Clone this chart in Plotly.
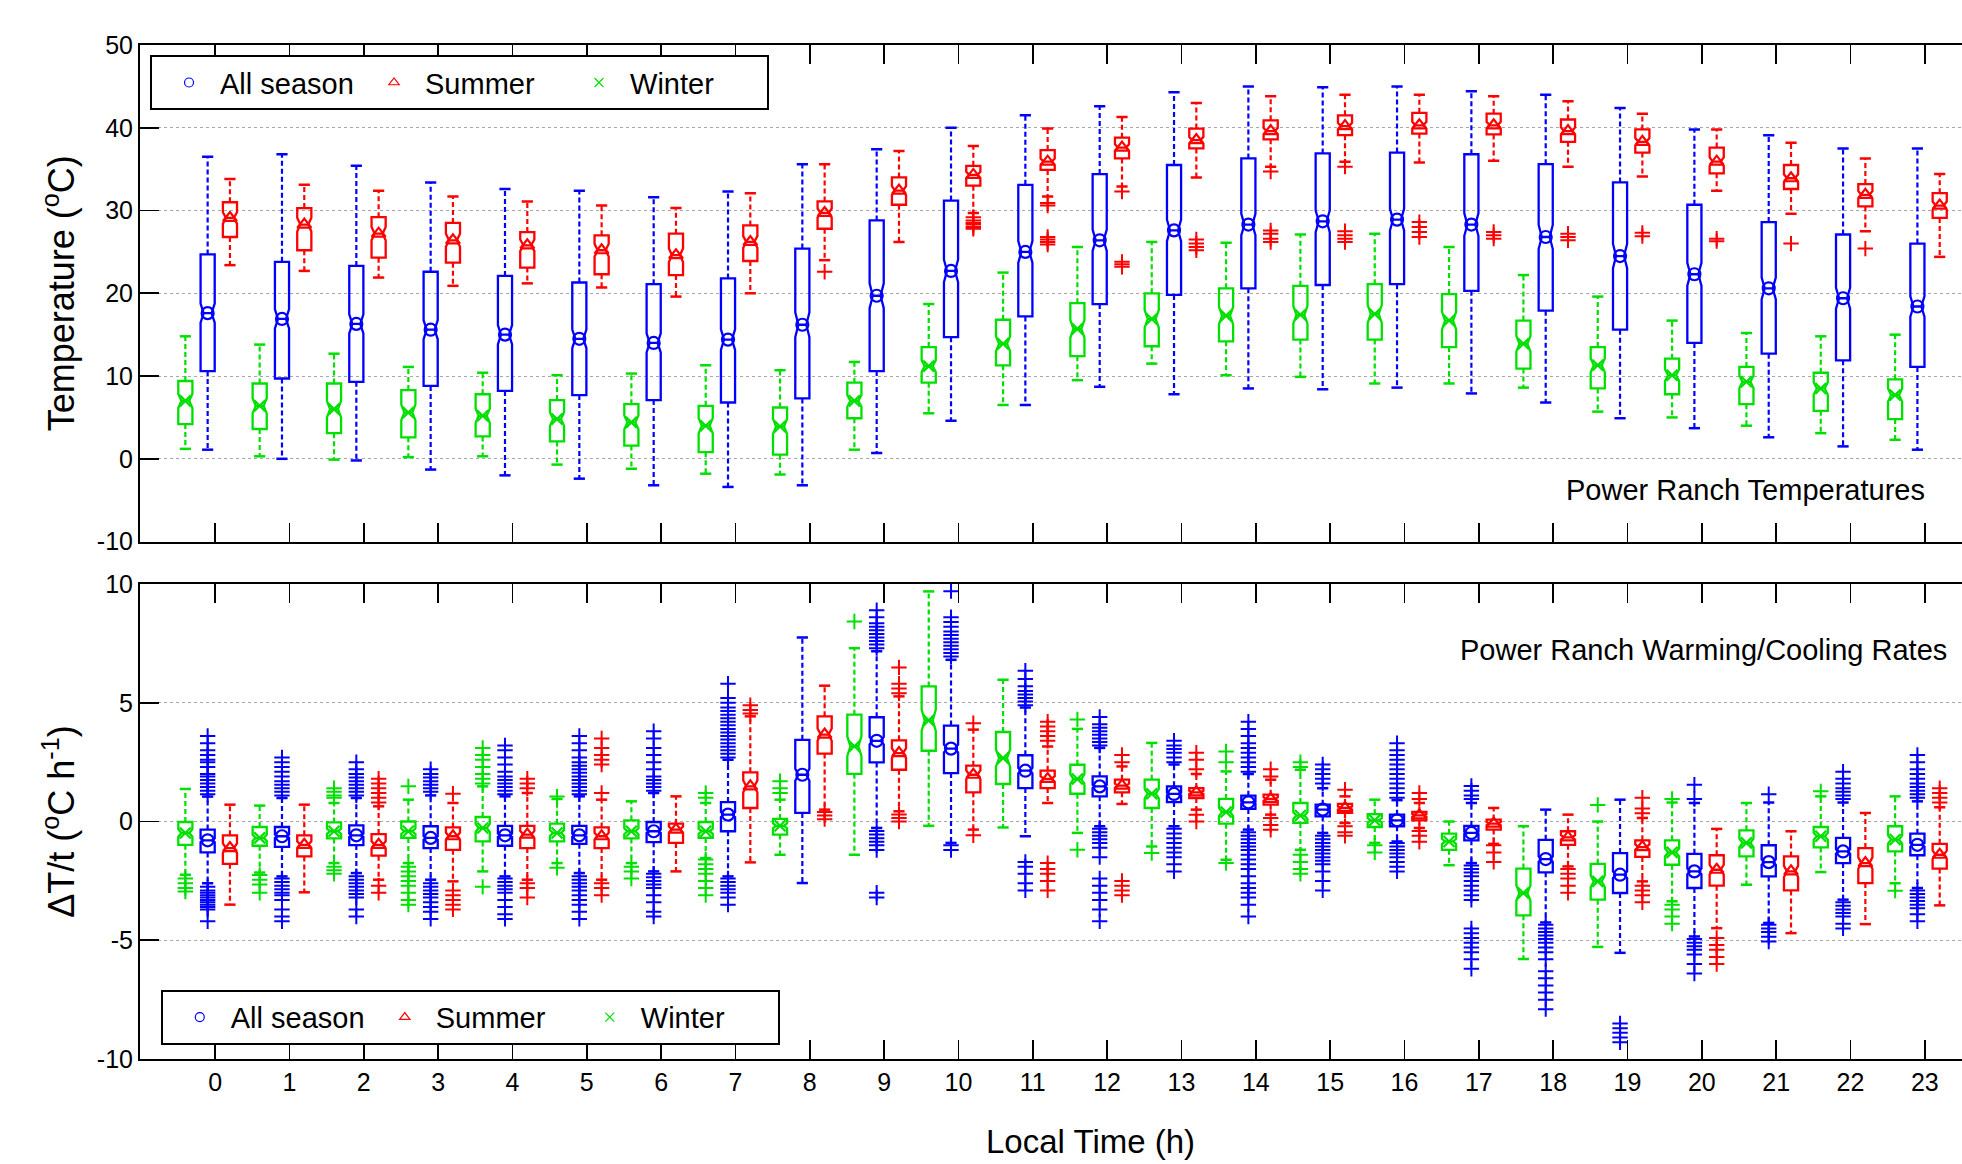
import math
import plotly.graph_objects as go

HOURS = list(range(24))
HOUR_LABELS = [str(h) for h in HOURS]

# ---------------- Top panel: temperature (deg C) ----------------
TEMP_ALL_UPPER = [36.5, 36.8, 35.4, 33.4, 32.6, 32.4, 31.6, 32.3, 35.6, 37.4, 40.0, 41.5, 42.6, 44.3, 45.0, 44.9, 45.0, 44.4, 44.0, 42.4, 39.8, 39.1, 37.5, 37.5]
TEMP_ALL_Q3 = [24.7, 23.8, 23.3, 22.6, 22.1, 21.3, 21.1, 21.8, 25.4, 28.8, 31.2, 33.1, 34.4, 35.5, 36.3, 36.9, 37.0, 36.8, 35.6, 33.4, 30.7, 28.6, 27.1, 26.0]
TEMP_ALL_MEDIAN = [17.6, 16.9, 16.3, 15.6, 15.0, 14.5, 14.0, 14.4, 16.2, 19.7, 22.7, 25.0, 26.4, 27.6, 28.3, 28.7, 28.9, 28.3, 26.8, 24.5, 22.3, 20.6, 19.4, 18.4]
TEMP_ALL_Q1 = [10.6, 9.7, 9.3, 8.8, 8.2, 7.7, 7.1, 6.8, 7.3, 10.6, 14.7, 17.2, 18.7, 19.8, 20.6, 21.0, 21.1, 20.3, 17.9, 15.6, 14.0, 12.7, 11.9, 11.1]
TEMP_ALL_LOWER = [1.1, 0.0, -0.2, -1.3, -2.0, -2.4, -3.2, -3.4, -3.2, 0.7, 4.6, 6.5, 8.7, 7.8, 8.5, 8.4, 8.6, 7.9, 6.8, 4.9, 3.7, 2.6, 1.5, 1.1]
TEMP_ALL_OUTLIERS = [[] for _ in HOURS]

TEMP_SUMMER_UPPER = [33.8, 33.1, 32.4, 31.7, 31.1, 30.6, 30.3, 32.1, 35.6, 37.2, 37.8, 39.9, 41.3, 43.0, 43.8, 44.0, 44.0, 43.8, 43.2, 41.7, 39.8, 38.2, 36.3, 34.4]
TEMP_SUMMER_Q3 = [31.0, 30.3, 29.2, 28.5, 27.4, 27.0, 27.2, 28.2, 31.1, 34.0, 35.4, 37.3, 38.8, 39.9, 40.9, 41.5, 41.8, 41.7, 41.0, 39.8, 37.6, 35.5, 33.2, 32.1]
TEMP_SUMMER_MEDIAN = [29.1, 28.3, 27.2, 26.4, 25.8, 25.2, 24.6, 26.2, 29.7, 32.4, 34.3, 35.9, 37.6, 38.5, 39.6, 40.2, 40.3, 40.3, 39.6, 38.3, 35.9, 33.9, 31.9, 30.6]
TEMP_SUMMER_Q1 = [26.8, 25.2, 24.3, 23.7, 23.1, 22.3, 22.2, 23.9, 27.8, 30.7, 33.0, 34.9, 36.3, 37.5, 38.6, 39.1, 39.3, 39.2, 38.3, 37.0, 34.5, 32.6, 30.5, 29.1]
TEMP_SUMMER_LOWER = [23.4, 22.7, 21.9, 20.9, 21.2, 20.7, 19.6, 20.0, 24.0, 26.2, 29.7, 31.7, 32.9, 34.0, 35.3, 35.9, 35.8, 36.0, 35.3, 34.1, 32.4, 29.6, 27.5, 24.4]
TEMP_SUMMER_OUTLIERS = [
    [], [], [], [], [], [], [], [], [22.6], [],
    [29.2, 28.8, 28.5, 28.3, 28.0, 27.8],
    [30.9, 30.6, 26.8, 26.5, 26.2, 25.9],
    [32.3, 23.8, 23.5, 23.2],
    [26.5, 26.0, 25.6, 25.2],
    [34.7, 27.6, 27.2, 26.6, 26.2],
    [35.3, 27.5, 27.0, 26.6, 26.2],
    [28.6, 28.0, 27.4, 26.8],
    [27.4, 27.0, 26.6],
    [27.2, 26.8, 26.4],
    [27.3, 26.9],
    [26.6, 26.3],
    [26.0],
    [25.4],
    [],
]

TEMP_WINTER_UPPER = [14.8, 13.8, 12.7, 11.1, 10.4, 10.1, 10.3, 11.3, 10.7, 11.7, 18.7, 22.5, 25.6, 26.2, 26.1, 27.1, 27.2, 25.6, 22.2, 19.6, 16.7, 15.2, 14.8, 15.0]
TEMP_WINTER_Q3 = [9.4, 9.1, 9.1, 8.3, 7.8, 7.1, 6.6, 6.4, 6.2, 9.2, 13.5, 16.8, 18.8, 20.0, 20.6, 20.9, 21.1, 19.9, 16.7, 13.5, 12.1, 11.1, 10.4, 9.6]
TEMP_WINTER_MEDIAN = [7.0, 6.4, 6.0, 5.6, 5.2, 4.8, 4.4, 4.0, 3.9, 7.0, 11.2, 13.9, 15.7, 16.9, 17.3, 17.4, 17.5, 16.7, 13.9, 11.3, 10.1, 9.3, 8.5, 7.7]
TEMP_WINTER_Q1 = [4.2, 3.6, 3.1, 2.6, 2.7, 2.1, 1.6, 0.8, 0.5, 4.9, 9.2, 11.3, 12.4, 13.6, 14.2, 14.4, 14.4, 13.5, 10.9, 8.5, 7.8, 6.6, 5.8, 4.8]
TEMP_WINTER_LOWER = [1.2, 0.3, -0.1, 0.2, 0.3, -0.7, -1.2, -1.8, -1.9, 1.1, 5.5, 6.5, 9.5, 11.5, 10.1, 9.9, 9.1, 9.1, 8.6, 5.7, 5.0, 4.0, 3.1, 2.3]
TEMP_WINTER_OUTLIERS = [[] for _ in HOURS]

# ---------------- Bottom panel: warming / cooling rate (deg C per h) ----------------
RATE_ALL_UPPER = [1.05, 0.99, 0.99, 1.1, 1.06, 1.06, 1.2, 2.6, 7.75, 7.17, 6.81, 4.8, 3.1, 2.4, 2.0, 1.4, 0.9, 0.78, 0.5, 0.92, 0.78, 0.8, 0.8, 0.85]
RATE_ALL_Q3 = [-0.34, -0.23, -0.16, -0.2, -0.18, -0.18, -0.02, 0.82, 3.44, 4.39, 4.04, 2.79, 1.9, 1.48, 1.09, 0.71, 0.29, -0.18, -0.77, -1.33, -1.36, -1.0, -0.69, -0.51]
RATE_ALL_MEDIAN = [-0.79, -0.62, -0.58, -0.69, -0.58, -0.58, -0.41, 0.29, 1.97, 3.4, 3.07, 2.14, 1.48, 1.16, 0.81, 0.5, 0.05, -0.48, -1.58, -2.24, -2.1, -1.71, -1.26, -0.98]
RATE_ALL_Q1 = [-1.3, -1.07, -0.99, -1.12, -1.02, -0.94, -0.87, -0.41, 0.36, 2.49, 2.04, 1.41, 1.06, 0.82, 0.53, 0.22, -0.2, -0.79, -2.14, -3.01, -2.8, -2.31, -1.75, -1.42]
RATE_ALL_LOWER = [-2.6, -2.31, -2.17, -2.45, -2.31, -2.17, -2.1, -2.31, -2.59, -0.27, -0.9, -0.62, -0.2, -0.2, -0.34, -0.48, -0.84, -1.75, -4.25, -5.53, -4.84, -4.27, -3.29, -2.8]
RATE_ALL_OUTLIERS = [
    [1.15, 1.3, 1.45, 1.6, 1.75, 1.9, 2.0, 2.3, 2.5, 2.6, 2.8, 3.0, 3.3, 3.6, -2.75, -2.9, -3.0, -3.1, -3.2, -3.3, -3.4, -3.5, -3.6, -3.7, -4.2],
    [1.1, 1.25, 1.4, 1.55, 1.7, 1.9, 2.1, 2.3, 2.5, 2.7, -2.4, -2.55, -2.7, -2.85, -3.0, -3.1, -3.3, -3.7, -4.0, -4.2],
    [1.1, 1.25, 1.4, 1.55, 1.7, 1.85, 2.0, 2.2, 2.5, -2.3, -2.45, -2.6, -2.75, -2.9, -3.05, -3.2, -3.7, -4.0],
    [1.25, 1.4, 1.55, 1.7, 1.85, 2.0, 2.2, -2.6, -2.75, -2.9, -3.05, -3.2, -3.4, -3.6, -3.8, -4.1],
    [1.15, 1.3, 1.45, 1.6, 1.75, 1.9, 2.1, 2.4, 2.7, 3.0, 3.2, -2.4, -2.55, -2.7, -2.85, -3.0, -3.3, -3.6, -3.9, -4.1],
    [1.15, 1.3, 1.45, 1.6, 1.75, 1.9, 2.05, 2.2, 2.35, 2.5, 2.7, 3.0, 3.3, 3.6, -2.3, -2.45, -2.6, -2.75, -2.9, -3.1, -3.3, -3.5, -3.8, -4.1],
    [1.3, 1.45, 1.6, 1.75, 1.9, 2.2, 2.5, 2.8, 3.1, 3.5, 3.8, -2.2, -2.35, -2.5, -2.65, -2.8, -3.1, -3.4, -3.8, -4.0],
    [2.7, 2.85, 3.0, 3.15, 3.3, 3.45, 3.6, 3.75, 3.9, 4.05, 4.2, 4.35, 4.5, 4.65, 4.8, 5.0, 5.2, 5.8, -2.4, -2.55, -2.7, -2.85, -3.0, -3.2, -3.5],
    [],
    [7.3, 7.45, 7.6, 7.75, 7.9, 8.05, 8.2, 8.35, 8.6, 8.9, -0.4, -0.55, -0.7, -0.85, -1.0, -1.2, -3.0, -3.2],
    [6.95, 7.1, 7.25, 7.4, 7.55, 7.7, 7.85, 8.0, 8.2, 8.4, 8.6, 9.7, -1.0, -1.2],
    [4.9, 5.05, 5.2, 5.35, 5.5, 5.7, 6.0, 6.35, -1.7, -1.9, -2.2, -2.6, -2.9],
    [3.2, 3.35, 3.5, 3.65, 3.8, 3.95, 4.1, 4.4, -0.3, -0.45, -0.6, -0.75, -0.9, -1.1, -1.5, -2.4, -2.7, -3.0, -3.3, -3.7, -4.2],
    [2.5, 2.7, 2.9, 3.05, 3.2, 3.4, -0.3, -0.5, -0.7, -0.9, -1.1, -1.3, -1.5, -1.8, -2.1],
    [2.1, 2.3, 2.5, 2.7, 2.9, 3.1, 3.3, 3.6, 3.9, 4.2, -0.45, -0.6, -0.75, -0.9, -1.05, -1.2, -1.4, -1.6, -1.8, -2.0, -2.3, -2.6, -2.8, -3.0, -3.2, -3.5, -4.0],
    [1.6, 1.8, 2.0, 2.2, 2.4, -0.6, -0.75, -0.9, -1.05, -1.2, -1.35, -1.5, -1.65, -1.8, -2.1, -2.5, -2.9],
    [1.0, 1.2, 1.4, 1.6, 1.8, 2.0, 2.2, 2.4, 2.6, 2.8, 3.0, 3.3, -0.9, -1.05, -1.2, -1.35, -1.5, -1.7, -1.9, -2.1],
    [0.95, 1.1, 1.3, 1.5, -1.85, -2.0, -2.15, -2.3, -2.5, -2.7, -2.9, -3.1, -3.3, -4.5, -4.7, -4.9, -5.1, -5.3, -5.5, -5.8, -6.2],
    [-4.35, -4.5, -4.65, -4.8, -4.95, -5.1, -5.3, -5.5, -5.8, -6.3, -6.6, -6.9, -7.2, -7.5, -7.9],
    [-8.5, -8.7, -8.9, -9.1, -9.3],
    [0.95, 1.55, -4.95, -5.1, -5.25, -5.4, -5.6, -6.0, -6.4],
    [1.15, -4.35, -4.5, -4.65, -4.85, -5.05],
    [0.95, 1.1, 1.25, 1.4, 1.6, 1.8, 2.1, -3.4, -3.55, -3.7, -3.85, -4.0, -4.3, -4.5],
    [1.0, 1.15, 1.3, 1.45, 1.6, 1.8, 2.0, 2.2, 2.5, 2.8, -2.9, -3.05, -3.2, -3.35, -3.5, -3.65, -3.9, -4.2],
]

RATE_SUMMER_UPPER = [0.71, 0.71, 0.64, 0.78, 1.2, 0.92, 1.06, 4.43, 5.72, 5.27, 3.87, 3.16, 2.32, 2.0, 1.76, 1.06, 0.78, 0.57, 0.29, 0.15, -0.31, -0.41, 0.36, 0.6]
RATE_SUMMER_Q3 = [-0.58, -0.58, -0.53, -0.25, -0.18, -0.25, -0.09, 2.07, 4.43, 3.42, 2.35, 2.14, 1.76, 1.41, 1.13, 0.74, 0.4, 0.08, -0.41, -0.79, -1.42, -1.47, -1.12, -0.94]
RATE_SUMMER_MEDIAN = [-1.12, -0.98, -0.98, -0.62, -0.55, -0.62, -0.34, 1.48, 3.66, 2.88, 1.97, 1.79, 1.51, 1.23, 0.95, 0.57, 0.26, -0.09, -0.67, -1.08, -2.03, -2.1, -1.75, -1.4]
RATE_SUMMER_Q1 = [-1.78, -1.47, -1.44, -1.19, -1.12, -1.12, -0.9, 0.57, 2.86, 2.18, 1.23, 1.41, 1.23, 0.99, 0.71, 0.36, 0.05, -0.34, -0.98, -1.49, -2.7, -2.9, -2.59, -1.98]
RATE_SUMMER_LOWER = [-3.5, -2.98, -2.45, -2.52, -2.45, -2.45, -2.1, -1.72, 0.5, 0.43, -0.34, 0.78, 0.74, 0.5, 0.29, -0.06, -0.27, -0.94, -1.89, -2.52, -4.49, -4.7, -4.32, -3.53]
RATE_SUMMER_OUTLIERS = [
    [], [],
    [0.8, 1.0, 1.2, 1.4, 1.6, 1.8, -2.7, -3.0],
    [1.17, -2.9, -3.1, -3.3, -3.5, -3.7],
    [1.4, 1.6, 1.8, -2.6, -2.8, -3.2],
    [1.2, 2.4, 2.6, 2.8, 3.1, 3.5, -2.6, -2.8, -3.1],
    [],
    [4.55, 4.7, 4.9],
    [0.4, 0.25, 0.1],
    [5.4, 5.6, 5.8, 6.49, 0.3, 0.15, 0.0],
    [4.14, -0.58],
    [3.4, 3.6, 3.8, 4.0, 4.2, -1.75, -2.0, -2.2, -2.5, -2.9],
    [2.5, 2.8, -2.5, -2.7, -2.9, -3.1],
    [2.2, 2.6, 2.9, 0.28, 0.0],
    [1.9, 2.2, 0.15, -0.15, -0.35],
    [1.34, -0.2, -0.45, -0.6],
    [0.95, 1.2, -0.4, -0.6, -0.85],
    [-1.0, -1.3, -1.7],
    [-2.0, -2.2, -2.4, -2.7, -3.0],
    [0.35, 0.55, 1.0, -2.7, -2.9, -3.1, -3.4],
    [-4.9, -5.2, -5.4, -5.7, -6.0],
    [],
    [],
    [0.8, 1.0, 1.2, 1.4],
]

RATE_WINTER_UPPER = [1.37, 0.67, 0.78, 0.92, 1.48, 0.95, 0.85, 0.78, 0.92, 7.3, 9.69, 5.97, 3.9, 3.31, 2.11, 2.18, 0.92, 0.0, -0.2, 0.0, 0.8, 0.78, 1.06, 1.06]
RATE_WINTER_Q3 = [-0.02, -0.23, -0.04, 0.0, 0.19, -0.09, 0.05, -0.02, 0.11, 4.5, 5.69, 3.77, 2.39, 1.76, 0.95, 0.78, 0.31, -0.51, -1.98, -1.78, -0.79, -0.37, -0.23, -0.2]
RATE_WINTER_MEDIAN = [-0.48, -0.69, -0.41, -0.41, -0.27, -0.48, -0.41, -0.41, -0.18, 3.17, 4.26, 2.67, 1.79, 1.17, 0.4, 0.25, 0.05, -0.84, -3.01, -2.52, -1.3, -0.9, -0.62, -0.76]
RATE_WINTER_Q1 = [-0.98, -1.02, -0.71, -0.69, -0.84, -0.84, -0.71, -0.69, -0.55, 2.01, 2.98, 1.58, 1.17, 0.57, -0.09, -0.06, -0.23, -1.19, -3.95, -3.29, -1.82, -1.47, -1.09, -1.26]
RATE_WINTER_LOWER = [-2.24, -2.15, -1.75, -1.75, -2.1, -1.75, -1.75, -1.54, -1.4, -1.4, -0.18, -0.25, -0.48, -1.05, -1.61, -1.19, -0.9, -1.84, -5.79, -5.28, -3.36, -2.66, -2.13, -2.6]
RATE_WINTER_OUTLIERS = [
    [-2.4, -2.6, -2.8, -2.95],
    [-2.25, -2.45, -2.65, -3.0],
    [1.0, 1.1, 1.25, 1.4, -1.9, -2.05, -2.2],
    [1.48, -1.9, -2.1, -2.3, -2.5, -2.7, -3.0, -3.3, -3.5],
    [1.6, 1.8, 2.0, 2.3, 2.6, 2.8, 3.1, -2.75],
    [1.05, -1.95],
    [-1.9, -2.1, -2.4],
    [1.0, 1.2, -1.6, -1.8, -2.0, -2.2, -2.5, -2.8, -3.1],
    [1.2, 1.4, 1.7],
    [8.42],
    [],
    [],
    [4.3, -1.19],
    [-1.33],
    [2.5, 2.95, -1.75],
    [2.3, 2.5, -1.4, -1.7, -2.0, -2.2],
    [-1.0, -1.3],
    [],
    [],
    [0.7],
    [0.95, -3.5, -3.7, -4.0, -4.3],
    [],
    [1.27],
    [-2.91],
]

# sample sizes (days per group), used for the notch half-span 1.57*IQR/sqrt(n)
N_DAYS = {"All season": 365, "Summer": 92, "Winter": 90}

# ---------------- styling ----------------
FONT = "Liberation Sans, Arial, Helvetica, sans-serif"
COLORS = {"All season": "#0000ff", "Summer": "#ff0000", "Winter": "#00e000"}
SYMBOLS = {"All season": "circle-open", "Summer": "triangle-up-open", "Winter": "x-thin-open"}
MED_SIZE = {"All season": 12, "Summer": 12, "Winter": 11}
OFFSET = {"Winter": -0.4, "All season": -0.1, "Summer": 0.2}
BOX_W = 0.19

fig = go.Figure()


def add_series(name, upper, q3, med, q1, lower, outliers, xa, ya):
    c = COLORS[name]
    pos = [h + OFFSET[name] for h in HOURS]
    notch = [1.57 * (b - a) / math.sqrt(N_DAYS[name]) for a, b in zip(q1, q3)]
    fig.add_trace(go.Box(
        x=pos, q1=q1, median=med, q3=q3, lowerfence=q1, upperfence=q3,
        notched=True, notchspan=notch, notchwidth=0.22, width=BOX_W,
        line=dict(color=c, width=2.3), fillcolor="rgba(0,0,0,0)",
        boxpoints=False, hoverinfo="skip", showlegend=False,
        xaxis=xa, yaxis=ya,
    ))
    wx, wy = [], []
    for p, a, b, lo, hi in zip(pos, q1, q3, lower, upper):
        wx += [p, p, None, p, p, None]
        wy += [b, hi, None, a, lo, None]
    fig.add_trace(go.Scatter(
        x=wx, y=wy, mode="lines", line=dict(color=c, width=2.2, dash="5px,3px"),
        hoverinfo="skip", showlegend=False, xaxis=xa, yaxis=ya,
    ))
    fig.add_trace(go.Scatter(
        x=pos + pos, y=upper + lower, mode="markers",
        marker=dict(symbol="line-ew", size=8, color=c, line=dict(color=c, width=2.5)),
        hoverinfo="skip", showlegend=False, xaxis=xa, yaxis=ya,
    ))
    ox, oy = [], []
    for p, vals in zip(pos, outliers):
        for v in vals:
            ox.append(p)
            oy.append(v)
    fig.add_trace(go.Scatter(
        x=ox, y=oy, mode="markers",
        marker=dict(symbol="cross-thin", size=11, color=c, line=dict(color=c, width=2)),
        hoverinfo="skip", showlegend=False, xaxis=xa, yaxis=ya,
    ))
    fig.add_trace(go.Scatter(
        x=pos, y=med, mode="markers",
        marker=dict(symbol=SYMBOLS[name], size=MED_SIZE[name], color=c, line=dict(color=c, width=2.2)),
        hoverinfo="skip", showlegend=False, xaxis=xa, yaxis=ya,
    ))


add_series("Winter", TEMP_WINTER_UPPER, TEMP_WINTER_Q3, TEMP_WINTER_MEDIAN, TEMP_WINTER_Q1, TEMP_WINTER_LOWER, TEMP_WINTER_OUTLIERS, "x", "y")
add_series("All season", TEMP_ALL_UPPER, TEMP_ALL_Q3, TEMP_ALL_MEDIAN, TEMP_ALL_Q1, TEMP_ALL_LOWER, TEMP_ALL_OUTLIERS, "x", "y")
add_series("Summer", TEMP_SUMMER_UPPER, TEMP_SUMMER_Q3, TEMP_SUMMER_MEDIAN, TEMP_SUMMER_Q1, TEMP_SUMMER_LOWER, TEMP_SUMMER_OUTLIERS, "x", "y")

add_series("Winter", RATE_WINTER_UPPER, RATE_WINTER_Q3, RATE_WINTER_MEDIAN, RATE_WINTER_Q1, RATE_WINTER_LOWER, RATE_WINTER_OUTLIERS, "x2", "y2")
add_series("All season", RATE_ALL_UPPER, RATE_ALL_Q3, RATE_ALL_MEDIAN, RATE_ALL_Q1, RATE_ALL_LOWER, RATE_ALL_OUTLIERS, "x2", "y2")
add_series("Summer", RATE_SUMMER_UPPER, RATE_SUMMER_Q3, RATE_SUMMER_MEDIAN, RATE_SUMMER_Q1, RATE_SUMMER_LOWER, RATE_SUMMER_OUTLIERS, "x2", "y2")

# legend entries
for leg, xa, ya in (("legend", "x", "y"), ("legend2", "x2", "y2")):
    for name in ("All season", "Summer", "Winter"):
        fig.add_trace(go.Scatter(
            x=[None], y=[None], mode="markers", name=name, legend=leg,
            marker=dict(symbol=SYMBOLS[name], size=9, color=COLORS[name],
                        line=dict(color=COLORS[name], width=1.2)),
            showlegend=True, xaxis=xa, yaxis=ya,
        ))

TEMP_TICKS = [-10, 0, 10, 20, 30, 40, 50]
RATE_TICKS = [-10, -5, 0, 5, 10]

axis_common = dict(
    showline=True, linecolor="black", linewidth=2,
    ticks="inside", ticklen=19, tickwidth=1.6, tickcolor="black",
    tickfont=dict(size=25, family=FONT, color="black"), zeroline=False,
    automargin=False,
)
grid = dict(showgrid=True, gridcolor="#a8a8a8", gridwidth=1, griddash="dot")
XRANGE = [-1.01, 23.5]

legend_common = dict(
    xanchor="left", yanchor="top", orientation="h",
    bgcolor="white", bordercolor="black", borderwidth=2,
    font=dict(size=29, family=FONT, color="black"),
    itemsizing="trace", itemwidth=52, entrywidth=132, indentation=6,
)

fig.update_layout(
    width=1962, height=1164,
    margin=dict(l=140, r=0, t=45, b=105),
    paper_bgcolor="white", plot_bgcolor="white",
    font=dict(family=FONT, color="black"),
    boxmode="overlay",
    xaxis=dict(domain=[0, 1], anchor="y", range=XRANGE, tickvals=HOURS,
               showticklabels=False, mirror="ticks", showgrid=False, **axis_common),
    yaxis=dict(domain=[0.5103, 1.0], anchor="x", range=[-10, 50], tickvals=TEMP_TICKS,
               ticktext=[str(t) for t in TEMP_TICKS], mirror=False,
               title=dict(text="Temperature (<sup>o</sup>C)", font=dict(size=36, family=FONT), standoff=11),
               **grid, **axis_common),
    xaxis2=dict(domain=[0, 1], anchor="y2", range=XRANGE, tickvals=HOURS, ticktext=HOUR_LABELS,
                mirror="ticks", showgrid=False, **axis_common),
    yaxis2=dict(domain=[0, 0.4684], anchor="x2", range=[-10, 10], tickvals=RATE_TICKS,
                ticktext=[str(t) for t in RATE_TICKS], mirror=False,
                title=dict(text="ΔT/t (<sup>o</sup>C h<sup>-1</sup>)", font=dict(size=36, family=FONT), standoff=11),
                **grid, **axis_common),
    legend=dict(x=0.0055, y=0.990, **legend_common),
    legend2=dict(x=0.0114, y=0.0683, **legend_common),
    annotations=[
        dict(text="Power Ranch Temperatures", xref="x", yref="y", x=23.03, y=-3.76,
             xanchor="right", yanchor="middle", showarrow=False,
             font=dict(size=29, family=FONT, color="black")),
        dict(text="Power Ranch Warming/Cooling Rates", xref="x2", yref="y2", x=23.33, y=7.23,
             xanchor="right", yanchor="middle", showarrow=False,
             font=dict(size=29, family=FONT, color="black")),
        # x-axis title (centred on the full original axis, which extends past the crop)
        dict(text="Local Time (h)", xref="x2", yref="paper", x=11.77, y=-0.0815,
             xanchor="center", yanchor="middle", showarrow=False,
             font=dict(size=33, family=FONT, color="black")),
    ],
)

fig.write_html(
    "out.html",
    config={"displayModeBar": False, "staticPlot": True},
    post_script="document.body.style.margin='0px';document.body.style.overflow='hidden';",
)
